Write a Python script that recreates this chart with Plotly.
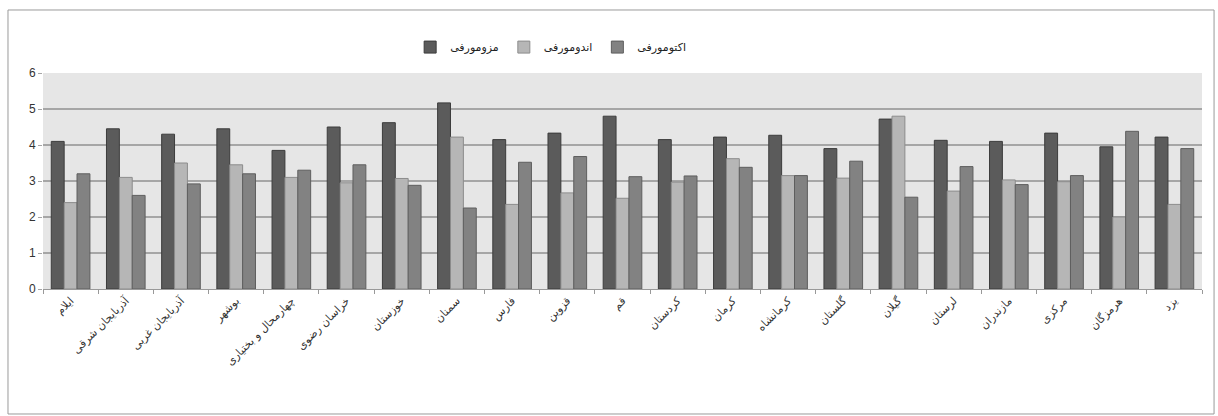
import plotly.graph_objects as go

categories = ["ایلام", "آذربایجان شرقی", "آذربایجان غربی", "بوشهر", "چهارمحال و بختیاری",
              "خراسان رضوی", "خوزستان", "سمنان", "فارس", "قزوین", "قم", "کردستان", "کرمان",
              "کرمانشاه", "گلستان", "گیلان", "لرستان", "مازندران", "مرکزی", "هرمزگان", "یزد"]
mesomorph = [4.10, 4.45, 4.30, 4.45, 3.85, 4.50, 4.62, 5.17, 4.15, 4.33, 4.80, 4.15, 4.22,
             4.27, 3.90, 4.72, 4.13, 4.10, 4.33, 3.95, 4.22]
endomorph = [2.40, 3.10, 3.50, 3.45, 3.10, 2.95, 3.07, 4.22, 2.35, 2.67, 2.52, 2.97, 3.62,
             3.15, 3.08, 4.80, 2.72, 3.03, 2.98, 2.00, 2.35]
ectomorph = [3.20, 2.60, 2.92, 3.20, 3.30, 3.45, 2.88, 2.25, 3.52, 3.68, 3.12, 3.14, 3.38,
             3.15, 3.55, 2.55, 3.40, 2.90, 3.15, 4.38, 3.90]
series_names = ["مزومورفی", "اندومورفی", "اکتومورفی"]
series_colors = ["#5b5b5b", "#b6b6b6", "#828282"]
line_colors = ["#3c3c3c", "#8c8c8c", "#5e5e5e"]

fig = go.Figure()
for name, vals, col, lc in zip(series_names, [mesomorph, endomorph, ectomorph], series_colors, line_colors):
    fig.add_trace(go.Bar(x=categories, y=vals, name=name,
                         marker=dict(color=col, line=dict(color=lc, width=1))))

fig.update_layout(
    width=1218, height=416,
    margin=dict(l=43, r=16, t=73, b=127),
    paper_bgcolor="white",
    plot_bgcolor="#e6e6e6",
    barmode="group", bargap=0.3, bargroupgap=0,
    font=dict(family="DejaVu Sans", color="#333333"),
    showlegend=True,
    legend=dict(orientation="h", x=0.438, y=1.12, xanchor="center", yanchor="middle",
                font=dict(size=11, color="#222222"), itemwidth=30,
                bgcolor="rgba(0,0,0,0)", traceorder="normal"),
    xaxis=dict(tickangle=-45, tickfont=dict(size=11, color="#333333", family="DejaVu Sans"),
               ticks="outside", tickson="boundaries", ticklen=4, tickcolor="#999999",
               showline=True, linecolor="#999999", linewidth=1, showgrid=False,
               fixedrange=True),
    yaxis=dict(range=[0, 6], dtick=1, tickfont=dict(size=12, color="#333333", family="Liberation Sans"),
               showgrid=True, gridcolor="#a6a6a6", gridwidth=1.5,
               ticks="outside", ticklen=4, tickcolor="#a6a6a6",
               showline=False, zeroline=False, fixedrange=True),
    shapes=[dict(type="rect", xref="paper", yref="paper",
                 x0=-0.0302, x1=1.0104, y0=-0.5787, y1=1.2917,
                 line=dict(color="#9a9a9a", width=1), fillcolor="rgba(0,0,0,0)", layer="below")],
)

fig.write_html("out.html")
